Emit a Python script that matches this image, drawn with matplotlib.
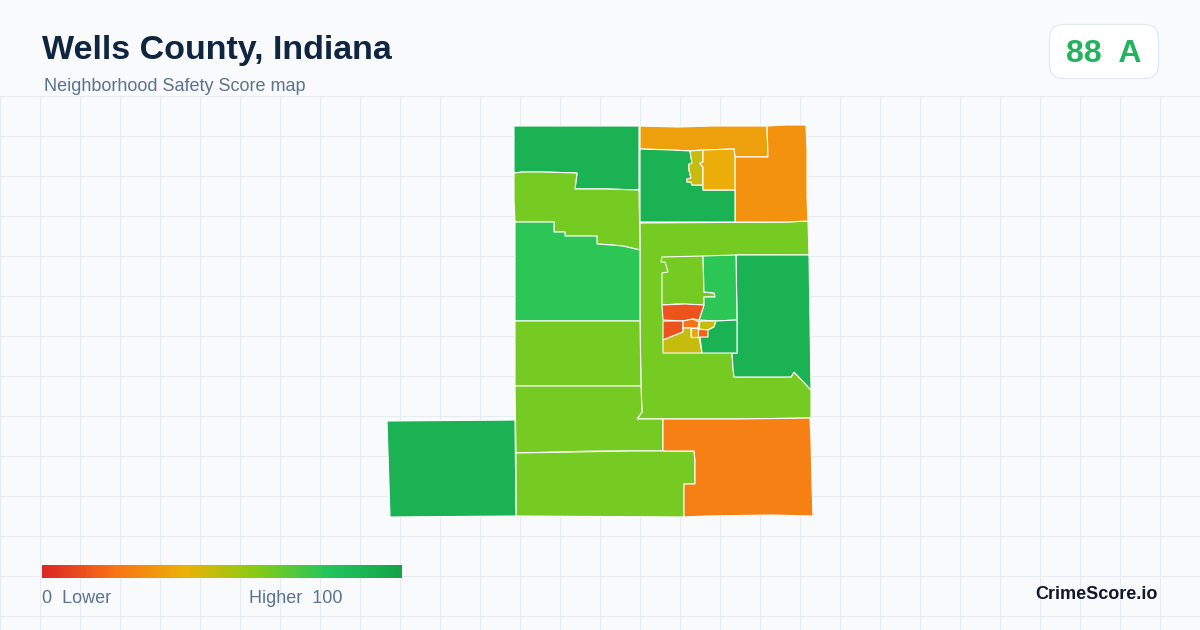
import numpy as np
import matplotlib
matplotlib.use('Agg')
import matplotlib.pyplot as plt
from matplotlib.colors import LinearSegmentedColormap
from matplotlib.patches import FancyBboxPatch, Polygon

plt.rcParams['font.family'] = ['Liberation Sans', 'DejaVu Sans']

title = 'Wells County, Indiana'
subtitle = 'Neighborhood Safety Score map'
badge_text = '88  A'
brand = 'CrimeScore.io'
legend_low = '0  Lower'
legend_high = 'Higher  100'

ramp_stops = [0, 0.2, 0.4, 0.6, 0.8, 1]
ramp_colors = ['#dc2626', '#f97316', '#eab308', '#84cc16', '#22c55e', '#16a34a']

# tract outlines, in image pixels; the score picks the colour
center_ring = [(640, 223), (787, 222), (808, 221), (809, 255), (736, 255), (737, 320), (737, 353), (732, 353),
               (733, 368), (734, 377), (791, 377), (794, 372), (811, 390), (811, 418), (739, 419), (637, 419),
               (642, 412), (641, 386), (640, 321), (640, 250)]
nw_top = [(514, 126), (639, 126), (639, 190), (607, 189), (575, 189), (577, 173), (543, 172), (523, 172), (514, 173)]
nw_mid = [(514, 173), (523, 172), (543, 172), (577, 173), (575, 189), (607, 189), (639, 190), (640, 250), (623, 246),
          (612, 245), (597, 244), (597, 236), (565, 236), (565, 232), (554, 232), (554, 222), (515, 222), (514, 200)]
west_big = [(515, 222), (554, 222), (554, 232), (565, 232), (565, 236), (597, 236), (597, 244), (612, 245), (623, 246),
            (640, 250), (640, 321), (515, 321)]
west_a = [(515, 321), (640, 321), (641, 386), (515, 386)]
west_b = [(515, 386), (641, 386), (642, 412), (637, 419), (663, 419), (663, 451), (595, 451), (516, 453)]
south_mid = [(516, 453), (630, 451), (694, 451), (695, 460), (695, 484), (684, 484), (684, 517), (516, 516)]
south_east = [(663, 419), (739, 419), (810, 418), (811, 440), (812, 484), (813, 516), (771, 515), (706, 516), (684, 517),
              (684, 484), (695, 484), (695, 460), (694, 451), (663, 451)]
south_west = [(387, 421), (515, 420), (516, 516), (390, 517)]
east_big = [(736, 255), (809, 255), (810, 320), (811, 390), (794, 372), (791, 377), (734, 377), (733, 368), (732, 353),
            (737, 353), (737, 320)]
north_band = [(640, 126), (678, 127), (712, 126), (767, 126), (768, 157), (735, 157), (734, 149), (703, 150), (690, 151),
              (672, 150), (640, 149)]
ne_corner = [(767, 126), (786, 125), (806, 125), (807, 150), (807, 197), (808, 221), (787, 222), (735, 222), (735, 157),
             (768, 157)]
north_green = [(640, 149), (672, 150), (690, 151), (692, 163), (689, 164), (689, 170), (691, 178), (687, 179), (687, 182),
               (691, 182), (692, 185), (703, 185), (703, 190), (735, 190), (735, 222), (640, 222)]
north_olive = [(690, 151), (703, 150), (703, 162), (700, 163), (701, 165), (703, 167), (703, 185), (692, 185), (691, 182),
               (687, 182), (687, 179), (691, 178), (689, 170), (689, 164), (692, 163)]
north_yellow = [(703, 150), (734, 149), (735, 157), (735, 190), (703, 190), (703, 167), (701, 165), (700, 163), (703, 162)]
town_lime = [(662, 257), (703, 256), (704, 292), (714, 293), (715, 297), (704, 297), (704, 305), (677, 304), (662, 305),
             (662, 273), (668, 272), (666, 265), (665, 262), (661, 262)]
town_light = [(703, 256), (736, 255), (737, 320), (716, 321), (699, 320), (704, 305), (704, 297), (715, 297), (714, 293),
              (704, 292)]
town_red_n = [(662, 305), (685, 304), (704, 305), (699, 320), (693, 319), (683, 321), (663, 320)]
town_red_w = [(663, 321), (683, 321), (683, 332), (663, 340)]
town_orange = [(683, 321), (693, 319), (699, 322), (698, 328), (683, 328)]
town_olive_s = [(663, 340), (683, 332), (683, 328), (691, 328), (691, 337), (699, 337), (702, 353), (663, 353)]
town_yellow = [(691, 328), (698, 328), (698, 337), (691, 337)]
town_orange2 = [(698, 329), (708, 329), (708, 337), (698, 337)]
town_olive_ne = [(700, 321), (716, 321), (714, 327), (708, 330), (699, 329)]
town_green = [(716, 321), (737, 320), (737, 353), (714, 353), (702, 353), (700, 337), (708, 337), (708, 330), (714, 327)]

tracts = [center_ring, nw_top, nw_mid, west_big, west_a, west_b, south_mid, south_east, south_west, east_big,
          north_band, ne_corner, north_green, north_olive, north_yellow, town_lime, town_light, town_red_n,
          town_red_w, town_orange, town_olive_s, town_yellow, town_orange2, town_olive_ne, town_green]
scores = [63, 91, 63, 78, 63, 63, 63, 24, 91, 91,
          34, 30, 91, 47, 38, 63, 78, 12,
          12, 20, 47, 36, 16, 47, 91]

cmap = LinearSegmentedColormap.from_list('score', list(zip(ramp_stops, ramp_colors)))

fig = plt.figure(figsize=(12, 6.3), dpi=100, facecolor='#f8fafc')
ax = fig.add_axes([0, 0, 1, 1])
ax.set_xlim(0, 1200)
ax.set_ylim(630, 0)
ax.axis('off')

# background grid starts under the header
for x in np.arange(0, 1200, 40):
    ax.plot([x, x], [96, 630], color='#e6edf2', lw=0.75, zorder=1)
for y in np.arange(96, 630, 40):
    ax.plot([0, 1200], [y, y], color='#e6edf2', lw=0.75, zorder=1)

for pts, score in zip(tracts, scores):
    ax.add_patch(Polygon(pts, closed=True, facecolor=cmap(score / 100), edgecolor='white', lw=0.8, zorder=2))

ax.text(42, 59, title, fontsize=24.45, fontweight='bold', color='#0f2540', va='baseline', ha='left')
ax.text(44, 91, subtitle, fontsize=12.95, color='#5b7290', va='baseline', ha='left')

ax.add_patch(FancyBboxPatch((1049.5, 24.5), 109, 54, boxstyle='round,pad=0,rounding_size=14',
                            fc='white', ec='#e2e8f0', lw=0.9, zorder=3))
ax.text(1104, 62, badge_text, fontsize=23, fontweight='bold', color='#22b35e', va='baseline', ha='center', zorder=4)

ramp = np.linspace(0, 1, 360).reshape(1, -1)
ax.imshow(ramp, cmap=cmap, vmin=0, vmax=1, extent=(42, 402, 578, 565), aspect='auto', zorder=2)
ax.set_xlim(0, 1200)
ax.set_ylim(630, 0)
ax.text(42, 603, legend_low, fontsize=12.95, color='#5b7290', va='baseline', ha='left')
ax.text(249, 603, legend_high, fontsize=12.95, color='#5b7290', va='baseline', ha='left')
ax.text(1158, 599, brand, fontsize=13, fontweight='bold', color='#0f172a', va='baseline', ha='right')

fig.savefig('out.png', dpi=100, facecolor=fig.get_facecolor())
